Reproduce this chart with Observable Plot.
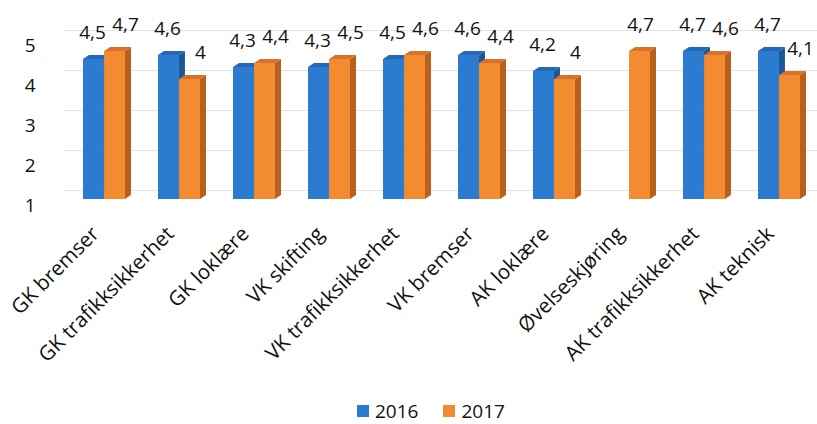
<!DOCTYPE html>
<html>
<head>
<meta charset="utf-8">
<script src="https://cdn.jsdelivr.net/npm/d3@7"></script>
<script src="https://cdn.jsdelivr.net/npm/@observablehq/plot@0.6"></script>
<style>
  html, body { margin: 0; padding: 0; background: #fff; }
  body { width: 817px; height: 424px; position: relative; overflow: hidden; font-family: "Open Sans", Lato, sans-serif; }
  #legend { position: absolute; left: 357px; top: 398px; display: flex; align-items: center; font-size: 19px; color: #111; }
  #legend .sw { width: 12px; height: 12px; display: inline-block; margin-right: 6px; }
  #legend .item { display: flex; align-items: center; margin-right: 25px; }
</style>
</head>
<body>
<div id="chart"></div>
<div id="legend"></div>
<script>
const categories = ["GK bremser", "GK trafikksikkerhet", "GK loklære", "VK skifting", "VK trafikksikkerhet", "VK bremser", "AK loklære", "Øvelseskjøring", "AK trafikksikkerhet", "AK teknisk"];
const values2016 = [4.5, 4.6, 4.3, 4.3, 4.5, 4.6, 4.2, null, 4.7, 4.7];
const values2017 = [4.7, 4.0, 4.4, 4.5, 4.6, 4.4, 4.0, 4.7, 4.6, 4.1];
const series = ["2016", "2017"];
const yTicks = [1, 2, 3, 4, 5];

const blue = "#2b7bd0", orange = "#f38b30";
const colors = [blue, orange];
const sideColors = {[blue]: "#1b5799", [orange]: "#b8601c"};
const topColors = {[blue]: "#2468b8", [orange]: "#d8722a"};

const W = 817, H = 390, mL = 65, mR = 0;
const pIn = 0.44, pOut = 0.22;
const step = (W - mL - mR) / (categories.length - pIn + 2 * pOut);
const bw = step * (1 - pIn);
const half = bw / 2;

const rows16 = categories.map((c, i) => ({c, v: values2016[i]})).filter(d => d.v != null);
const rows17 = categories.map((c, i) => ({c, v: values2017[i]})).filter(d => d.v != null);
const fmt = v => String(v).replace(".", ",");
const font = "'Open Sans', Lato, sans-serif";
const solo = categories.filter((c, i) => values2016[i] == null);

const chart = Plot.plot({
  width: W, height: H,
  marginTop: 39, marginBottom: H - 199, marginLeft: mL, marginRight: mR,
  x: {domain: categories, paddingInner: pIn, paddingOuter: pOut, axis: null},
  y: {domain: [1, 5], axis: null},
  style: {fontFamily: font, fontSize: "19px", color: "#111", background: "transparent", overflow: "visible"},
  marks: [
    Plot.ruleY(yTicks, {dy: -9, stroke: "#e2e2e2", strokeWidth: 1}),
    Plot.text(yTicks, {y: d => d, frameAnchor: "left", dx: -30, dy: 6, text: d => String(d), textAnchor: "end", fontSize: 19, fill: "#111"}),
    Plot.barY(rows16, {x: "c", y1: 1, y2: "v", fill: blue, insetRight: half}),
    Plot.barY(rows17, {x: "c", y1: 1, y2: "v", fill: orange, insetLeft: half}),
    Plot.text(rows16, {x: "c", y: "v", text: d => fmt(d.v), dx: -12, dy: -27, fontSize: 19, fill: "#111"}),
    Plot.text(rows17.filter(d => !solo.includes(d.c)), {x: "c", y: "v", text: d => fmt(d.v), dx: 21, dy: -27, fontSize: 19, fill: "#111"}),
    Plot.text(rows17.filter(d => solo.includes(d.c)), {x: "c", y: "v", text: d => fmt(d.v), dx: 11, dy: -27, fontSize: 19, fill: "#111"}),
    Plot.text(categories, {x: d => d, y: 1, text: d => d, rotate: -45, textAnchor: "end", dx: -9, dy: 31, fontSize: 20.5, fill: "#111"})
  ]
});
document.getElementById("chart").appendChild(chart);

// 3D styling of bar faces, derived from the rendered bars
const d = 6, dv = 4;
chart.querySelectorAll('g[aria-label="bar"]').forEach(g => {
  const fill = g.getAttribute("fill");
  g.querySelectorAll("rect").forEach(r => {
    const x = +r.getAttribute("x"), y = +r.getAttribute("y"), w = +r.getAttribute("width"), h = +r.getAttribute("height");
    const ns = "http://www.w3.org/2000/svg";
    const side = document.createElementNS(ns, "polygon");
    side.setAttribute("points", `${x + w},${y} ${x + w + d},${y - dv} ${x + w + d},${y + h - dv} ${x + w},${y + h}`);
    side.setAttribute("fill", sideColors[fill] || fill);
    const top = document.createElementNS(ns, "polygon");
    top.setAttribute("points", `${x},${y} ${x + d},${y - dv} ${x + w + d},${y - dv} ${x + w},${y}`);
    top.setAttribute("fill", topColors[fill] || fill);
    g.appendChild(side);
    g.appendChild(top);
  });
});

const legend = document.getElementById("legend");
series.forEach((s, i) => {
  const item = document.createElement("div");
  item.className = "item";
  item.innerHTML = `<span class="sw" style="background:${colors[i]}"></span><span>${s}</span>`;
  legend.appendChild(item);
});
</script>
</body>
</html>
